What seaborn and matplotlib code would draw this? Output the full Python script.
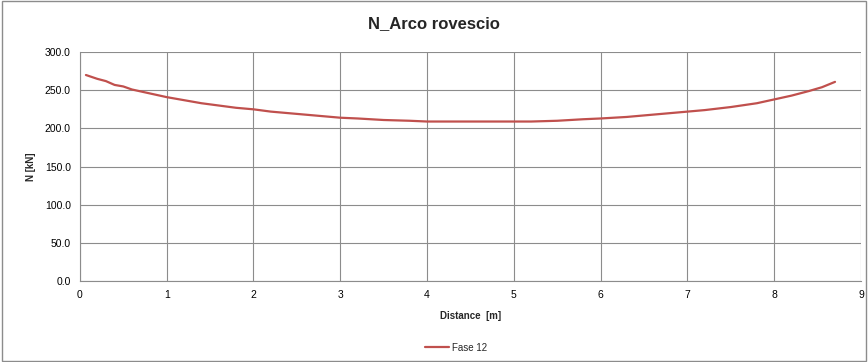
import matplotlib
matplotlib.use('Agg')
import matplotlib.pyplot as plt
import matplotlib.ticker as mticker
import pandas as pd
import seaborn as sns

sns.set_style('white')
plt.rcParams['font.family'] = ['Liberation Sans', 'DejaVu Sans']

distance = [0.07, 0.2, 0.3, 0.4, 0.5, 0.6, 0.8, 1.0, 1.2, 1.4, 1.6, 1.8, 2.0,
            2.2, 2.5, 2.8, 3.0, 3.2, 3.5, 3.8, 4.0, 4.3, 4.6, 5.0, 5.2, 5.5,
            5.8, 6.0, 6.3, 6.5, 6.8, 7.0, 7.2, 7.5, 7.8, 8.0, 8.2, 8.4, 8.55, 8.7]
n_kn = [270, 265, 262, 257, 255, 251, 246, 241, 237, 233, 230, 227, 225,
        222, 219, 216, 214, 213, 211, 210, 209, 209, 209, 209, 209, 210,
        212, 213, 215, 217, 220, 222, 224, 228, 233, 238, 243, 249, 254, 261]
series = 'Fase 12'

df = pd.DataFrame({'Distance': distance, 'N': n_kn, 'Serie': series})

fig = plt.figure(figsize=(8.68, 3.62), dpi=100)
ax = fig.add_axes([0.092, 0.224, 0.9, 0.632])

sns.lineplot(data=df, x='Distance', y='N', hue='Serie', palette=['#C0504D'],
             linewidth=1.6, ax=ax, legend=False)

ax.set_xlim(0, 9)
ax.set_ylim(0, 300)
ax.set_xticks(range(0, 10))
ax.set_yticks(range(0, 301, 50))
ax.yaxis.set_major_formatter(mticker.FormatStrFormatter('%.1f'))
ax.grid(True, color='#8c8c8c', linewidth=0.8)
for side in ['top', 'right']:
    ax.spines[side].set_visible(False)
for side in ['left', 'bottom']:
    ax.spines[side].set_color('#8c8c8c')
ax.tick_params(axis='both', labelsize=7.5, length=3, colors='#8c8c8c', labelcolor='black')
ax.set_xlabel('Distance  [m]', fontsize=7, fontweight='bold', labelpad=8)
ax.set_ylabel('N [kN]', fontsize=7, fontweight='bold', labelpad=6)
fig.suptitle('N_Arco rovescio', fontsize=12, fontweight='bold', y=0.955)

handle = plt.Line2D([], [], color='#C0504D', linewidth=1.6)
fig.legend([handle], [series], loc='center', bbox_to_anchor=(0.525, 0.04),
           frameon=False, fontsize=7, handlelength=2.5, handletextpad=0.3)

fig.patches.append(plt.Rectangle((0.002, 0.003), 0.996, 0.994, transform=fig.transFigure,
                                 fill=False, edgecolor='#8c8c8c', linewidth=1))

fig.savefig('out.png', dpi=100)
